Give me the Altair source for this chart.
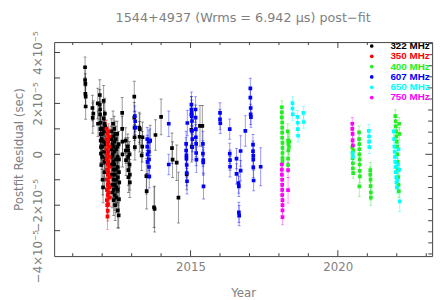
import altair as alt
import pandas as pd

freqs = ["322 MHz", "350 MHz", "400 MHz", "607 MHz", "650 MHz", "750 MHz"]
colors = ["#000000", "#ff0000", "#22ee22", "#0000ff", "#00ffff", "#ff00ff"]

# (year, residual in microseconds, error in microseconds)
obs_322 = [
    (2011.42, 34.2, 4), (2011.42, 29.2, 5), (2011.43, 27.7, 4), (2011.43, 23.8, 5), (2011.44, 22.7, 4), (2011.44, 18.8, 5),
    (2011.67, 18.2, 5), (2011.68, 14.3, 6), (2011.70, 16.0, 5), (2011.85, 20.0, 6), (2011.86, 12.0, 5),
    (2011.92, 23.3, 6), (2011.92, 19.5, 6), (2011.93, 17.6, 5), (2011.93, 15.7, 5), (2011.94, 12.4, 6), (2011.94, 9.9, 6),
    (2011.95, 7.9, 5), (2011.95, 5.4, 5), (2011.96, 2.8, 6), (2011.96, 0.3, 5), (2011.97, -4.2, 6),
    (2011.99, 10.0, 5), (2011.99, 6.0, 5), (2012.00, 3.0, 5), (2012.00, -1.0, 5), (2012.01, 8.0, 5), (2012.02, -10.0, 6), (2012.03, -13.0, 6),
    (2012.05, 21.0, 6), (2012.05, 14.0, 6), (2012.06, 9.0, 5), (2012.06, 5.0, 5), (2012.07, 1.0, 5), (2012.07, -3.0, 6),
    (2012.08, -7.0, 6), (2012.08, 12.0, 5), (2012.09, 16.0, 6),
    (2012.10, 11.0, 5), (2012.11, 4.0, 5), (2012.11, -2.0, 5),
    (2012.31, 9, 5), (2012.31, 6, 5), (2012.32, 2, 4), (2012.32, -1, 4), (2012.33, -4, 5), (2012.33, -8, 5),
    (2012.34, -12, 5), (2012.34, -15, 6), (2012.35, 4, 5), (2012.35, 0, 5),
    (2012.37, 12, 5), (2012.37, 7, 5), (2012.38, 3, 5), (2012.38, -3, 5), (2012.38, -6, 5), (2012.39, -10, 5), (2012.39, -14, 6), (2012.39, -18, 6),
    (2012.41, 10, 5), (2012.42, 5, 5), (2012.42, 1, 5), (2012.42, -4, 5), (2012.43, -8, 6), (2012.43, -12, 6), (2012.43, -16, 6), (2012.44, -20, 6), (2012.44, 8, 5),
    (2012.46, 6, 5), (2012.47, 2, 5), (2012.47, -2, 5), (2012.47, -6, 5), (2012.48, -10, 5), (2012.48, -13, 6), (2012.48, -17, 6),
    (2012.51, 8, 5), (2012.52, 3, 5), (2012.52, -1, 5), (2012.52, -5, 5), (2012.53, -9, 6), (2012.53, -14, 6), (2012.53, -22, 7),
    (2012.56, 4, 5), (2012.57, -2, 5), (2012.57, -7, 6), (2012.58, -11, 6), (2012.57, -17.7, 6), (2012.56, -24, 5),
    (2012.68, 16.3, 6), (2012.68, 10, 5), (2012.69, 5, 5), (2012.69, 0, 5),
    (2012.80, 5.4, 5), (2012.80, 1.5, 5), (2012.81, -2.3, 6),
    (2012.87, 3, 5), (2012.88, 1.5, 5), (2012.88, -1, 5), (2012.89, -6.2, 6), (2012.89, -9, 6),
    (2012.93, 0, 5), (2012.93, -4, 5), (2012.94, -8, 6), (2012.94, -11, 6),
    (2013.09, 22.7, 6), (2013.09, 14.4, 6), (2013.10, 10.5, 5), (2013.10, 6.7, 5), (2013.11, 2.8, 5),
    (2013.26, 10.5, 6), (2013.27, 6.9, 6), (2013.28, 9.9, 6),
    (2013.34, -0.4, 6), (2013.36, 3, 6), (2013.37, 6.7, 6),
    (2013.50, -8.6, 7), (2013.51, -14.5, 7),
    (2013.63, 5.4, 6),
    (2013.76, -20.8, 8), (2013.78, -21.5, 9),
    (2013.81, 7.6, 6),
    (2014.00, 14.7, 7),
    (2014.37, 2.4, 6), (2014.39, -2.1, 7),
    (2014.53, -3.3, 7),
    (2014.59, -17, 10),
    (2014.87, -7.9, 6),
    (2015.03, 15.7, 7), (2015.03, 9.6, 6), (2015.04, 3, 6),
    (2015.32, 11.2, 8), (2015.40, 11.2, 8),
]

obs_350 = [
    (2012.15, 10, 3.5), (2012.15, 6, 3), (2012.15, 2, 3), (2012.15, -2, 3), (2012.16, -6, 3), (2012.16, -10, 3),
    (2012.16, -14, 3), (2012.16, -18, 3.5), (2012.17, -20, 3.5),
    (2012.18, 8, 3), (2012.18, 4, 3), (2012.18, 0, 3), (2012.19, -4, 3), (2012.19, -8, 3), (2012.19, -12, 3), (2012.19, -16, 3),
    (2012.21, 9, 3), (2012.21, 5, 3), (2012.21, 1, 3), (2012.22, -3, 3), (2012.22, -7, 3), (2012.22, -11, 3), (2012.22, -15, 3),
    (2012.20, -19.6, 4), (2012.19, -22.2, 4), (2012.18, -24.5, 5),
    (2012.24, 7, 3), (2012.24, 3, 3), (2012.24, -1, 3), (2012.25, -5, 3), (2012.25, -9, 3), (2012.25, -13, 3), (2012.26, -17, 3.5),
]

obs_400 = [
    (2018.10, 18.5, 2.5), (2018.10, 16.5, 2.5), (2018.10, 14.5, 2.5), (2018.11, 12.5, 2.5), (2018.11, 10.5, 2.5), (2018.11, 8.5, 2.5),
    (2018.11, 6.5, 2.5), (2018.12, 4.5, 2.5), (2018.12, 2.5, 2.5), (2018.12, 0.5, 2.5), (2018.12, -1.5, 2.5), (2018.12, -3, 2.5),
    (2018.30, 9, 3), (2018.31, 5.4, 3), (2018.32, 4.1, 3), (2018.32, 1.5, 3), (2018.31, -1.7, 3), (2018.31, -4.2, 3), (2018.34, 3, 3), (2018.35, 5, 3),
    (2020.49, 2.8, 2), (2020.50, 0.5, 2), (2020.50, -1.5, 2), (2020.51, -3.5, 2), (2020.51, -5.5, 2), (2020.52, -7.4, 2), (2020.52, 1.5, 2),
    (2020.72, 8.6, 2.5), (2020.72, 6, 2.5), (2020.73, 4, 2.5), (2020.73, 2, 2.5), (2020.73, 0, 2.5), (2020.74, -2, 2.5),
    (2020.74, -4, 2.5), (2020.74, -6.5, 2.5), (2020.75, -8.7, 2.5), (2020.73, -12.6, 4),
    (2021.10, -6.2, 3), (2021.10, -8, 3), (2021.11, -10, 3), (2021.11, -12.5, 3), (2021.12, -15, 3), (2021.12, -17, 3),
    (2021.95, 15, 2.5), (2021.96, 13, 2.5), (2021.97, 11, 2.5), (2021.98, 9, 2.5), (2021.99, 7, 2.5), (2022.00, 5, 2.5),
    (2022.01, 3, 2.5), (2022.02, 0, 2.5), (2022.03, -3, 2.5), (2022.04, -6, 2.5), (2022.05, -9, 2.5), (2022.06, -12, 2.5),
    (2022.07, -14.5, 2.5), (2022.08, 12, 2.5), (2022.09, 8, 2.5),
]

obs_607 = [
    (2013.11, 15, 4), (2013.12, 13, 4), (2013.12, 10.5, 4),
    (2013.53, 6, 4.5), (2013.53, 3, 4.5), (2013.54, 0, 4.5), (2013.54, -3, 4.5), (2013.58, 5, 4.5), (2013.58, 1, 4.5),
    (2013.59, -2, 4.5), (2013.59, -5, 4.5), (2013.60, -8.7, 4.5), (2013.62, 5.4, 4.5),
    (2014.26, 12, 5), (2014.26, -4, 4),
    (2014.85, 4.1, 5), (2014.85, 1.5, 5), (2014.86, -0.4, 5), (2014.86, -1.7, 5), (2014.87, -4.2, 5), (2014.87, -7.4, 5),
    (2014.88, -10.6, 5), (2014.89, 12.3, 5),
    (2015.03, 19.5, 5), (2015.03, 17.6, 5), (2015.04, 16.3, 5), (2015.04, 15, 5), (2015.05, 13.1, 5), (2015.05, 9.2, 5),
    (2015.06, 6, 5), (2015.06, 2.8, 5),
    (2015.17, 17.6, 5), (2015.17, 14.4, 5), (2015.18, 9.9, 5), (2015.18, 6.7, 5), (2015.19, 4.1, 5), (2015.19, 0.5, 5), (2015.20, -2.1, 5),
    (2015.42, 4.1, 5), (2015.42, 0.3, 5), (2015.43, -2.3, 5), (2015.43, -3.2, 5), (2015.44, -12.6, 5),
    (2016.00, 16.3, 4), (2016.00, 13.7, 4), (2016.01, 12.2, 4),
    (2016.33, 9.9, 4), (2016.33, 0.3, 4), (2016.34, -2.3, 4), (2016.34, -4.9, 4),
    (2016.56, -1.7, 4), (2016.56, -7.7, 4),
    (2016.63, -11.3, 4), (2016.64, -12.6, 4), (2016.64, -22.8, 4), (2016.65, -24.1, 4),
    (2016.70, 1.3, 6), (2016.70, -6.4, 4),
    (2016.86, 9.2, 6),
    (2017.03, 25.9, 4), (2017.03, 22.3, 4), (2017.04, 18.2, 4), (2017.04, 15.7, 4), (2017.05, 14.6, 4),
    (2017.12, 3.8, 4), (2017.12, 1.2, 4), (2017.13, -0.5, 4), (2017.13, -2, 4), (2017.13, -5.1, 4), (2017.14, -10.3, 4),
    (2017.38, -4.9, 7.5),
]

obs_650 = [
    (2018.46, 20.1, 2.5), (2018.46, 18, 2.5), (2018.47, 15.7, 2.5),
    (2018.63, 14.7, 2.5), (2018.64, 12.4, 2.5), (2018.64, 9.9, 2.5), (2018.65, 7.3, 2.5),
    (2018.83, 16.3, 2.5), (2018.84, 12.7, 2.5),
    (2020.50, 0.5, 2), (2020.51, -1, 2),
    (2021.05, 9.2, 2.5), (2021.06, 7, 2.5), (2021.06, 5, 2.5), (2021.07, 2.8, 2.5),
    (2021.90, 9, 2.5), (2021.91, 6, 2.5), (2021.92, 3, 2.5), (2021.93, 1, 2.5), (2021.94, -1, 2.5), (2021.95, -3, 2.5),
    (2021.96, -5, 2.5), (2021.97, -7, 2.5), (2021.98, -9, 2.5), (2021.99, -11, 2.5), (2022.00, -13, 2.5), (2022.02, -10, 2.5),
    (2022.04, -4, 2.5), (2022.06, 2, 2.5), (2022.08, -6, 2.5), (2022.10, -18.5, 4),
]

obs_750 = [
    (2018.10, -4, 2.5), (2018.10, -6, 2.5), (2018.10, -8, 2.5), (2018.11, -10, 2.5), (2018.11, -12, 2.5), (2018.11, -14, 2.5),
    (2018.11, -16, 2.5), (2018.12, -18, 2.5), (2018.12, -20, 2.5), (2018.12, -22, 2.5), (2018.12, -24.7, 3),
    (2018.31, -6.2, 3), (2018.31, -14.1, 5),
    (2020.49, 12, 2.5), (2020.49, 10, 2.5), (2020.50, 8, 2.5), (2020.50, 5.5, 2.5), (2020.51, 3.5, 2.5),
]

series = [obs_322, obs_350, obs_400, obs_607, obs_650, obs_750]

x_major = [2015, 2020]
x_minor = [2011, 2012, 2013, 2014, 2016, 2017, 2018, 2019, 2021, 2022, 2023]
y_left_ticks = [-3e-5, -2e-5, -1e-5, 0, 1e-5, 2e-5, 3e-5, 4e-5]
y_labels = [-4e-5, -2e-5, 0, 2e-5, 4e-5]
right_step = 4.35e-6
right_minor_k = [-9, -8, -7, -6, -5, -4, -3, -2, -1, 1, 2, 3, 4, 5, 6, 7, 8, 9, 10]

rows = []
for i, (f, obs) in enumerate(zip(freqs, series)):
    for (d, r, e) in obs:
        rows.append({"freq": f, "ord": i, "year": d, "res": r * 1e-6,
                     "lo": (r - e) * 1e-6, "hi": (r + e) * 1e-6})
df = pd.DataFrame(rows)

W, H = 385, 218
gray = "#808080"
frame = "#404040"
xscale = alt.Scale(domain=[2010.37, 2023.2], nice=False, zero=False)
yscale = alt.Scale(domain=[-4e-5, 4.41e-5], nice=False, zero=False)

xaxis = alt.Axis(values=x_major, format="d", title="Year", ticks=False, tickSize=0,
                 domain=False, grid=False, labelPadding=6, titlePadding=15)
ylabel_expr = ("datum.value == 0 ? '0' : (datum.value < 0 ? '\u2212' : '') + "
               "abs(round(datum.value * 1e5)) + '\u00d710\u207b\u2075'")
yaxis = alt.Axis(values=y_labels, labelExpr=ylabel_expr, title="Postfit Residual (sec)",
                 labelAngle=-90, labelAlign="center", labelBaseline="bottom",
                 labelFlush=False, labelOverlap=False, labelBound=False,
                 ticks=False, tickSize=0, domain=False, grid=False,
                 labelPadding=10, titlePadding=6)


def X(f):
    return alt.X(f, type="quantitative", scale=xscale, axis=xaxis)


def Y(f):
    return alt.Y(f, type="quantitative", scale=yscale, axis=yaxis)


cscale = alt.Scale(domain=freqs, range=colors)
color_expr = " : ".join(f"datum.label == '{f}' ? '{c}'" for f, c in zip(freqs, colors)) + " : '#000000'"
legend = alt.Legend(orient="none", legendX=318.5, legendY=-1, title=None, symbolType="circle",
                    symbolSize=14, symbolStrokeWidth=0, symbolOpacity=1,
                    labelFont="Liberation Sans", labelFontWeight="bold", labelFontSize=10,
                    labelOffset=14, rowPadding=0.5, padding=0,
                    labelColor={"expr": color_expr})

err_layers = []
for f, c in zip(freqs, colors):
    b = alt.Chart(df).transform_filter(alt.datum.freq == f)
    err_layers.append(b.mark_rule(color=c, opacity=0.4, strokeWidth=1, clip=True).encode(
        x=X("year"), y=Y("lo"), y2="hi"))
    err_layers.append(b.mark_tick(color=c, orient="horizontal", size=3, thickness=1, opacity=0.4, clip=True).encode(
        x=X("year"), y=Y("lo")))
    err_layers.append(b.mark_tick(color=c, orient="horizontal", size=3, thickness=1, opacity=0.4, clip=True).encode(
        x=X("year"), y=Y("hi")))

pts = alt.Chart(df).mark_square(size=14, opacity=1, clip=True).encode(
    x=X("year"), y=Y("res"),
    color=alt.Color("freq:N", scale=cscale, legend=legend), order="ord:Q")

xmaj = pd.DataFrame({"v": x_major})
xmin = pd.DataFrame({"v": x_minor})
yl = pd.DataFrame({"v": y_left_ticks})
yr_min = pd.DataFrame({"v": [k * right_step for k in right_minor_k]})
yr_maj = pd.DataFrame({"v": [0.0]})

tick_layers = [
    alt.Chart(xmaj).mark_rule(color=frame).encode(x=X("v"), y=alt.value(H), y2=alt.value(H - 6)),
    alt.Chart(xmin).mark_rule(color=frame).encode(x=X("v"), y=alt.value(H), y2=alt.value(H - 3)),
    alt.Chart(xmaj).mark_rule(color=frame).encode(x=X("v"), y=alt.value(0), y2=alt.value(6)),
    alt.Chart(xmin).mark_rule(color=frame).encode(x=X("v"), y=alt.value(0), y2=alt.value(3)),
    alt.Chart(yl).mark_rule(color=frame).encode(y=Y("v"), x=alt.value(0), x2=alt.value(6)),
    alt.Chart(yr_min).mark_rule(color=frame).encode(y=Y("v"), x=alt.value(W), x2=alt.value(W - 4)),
    alt.Chart(yr_maj).mark_rule(color=frame).encode(y=Y("v"), x=alt.value(W), x2=alt.value(W - 7)),
]

chart = alt.layer(*err_layers, pts, *tick_layers).properties(
    width=W, height=H,
    title=alt.Title("1544+4937 (Wrms = 6.942 \u03bcs) post\u2212fit", fontSize=13, font="DejaVu Sans",
                    color=gray, fontWeight="normal", offset=6, anchor="middle", frame="group"),
    autosize=alt.AutoSizeParams(type="none"),
    padding={"left": 47, "top": 32, "right": 7, "bottom": 42},
).configure_view(stroke=frame, strokeWidth=1).configure_axis(
    labelFont="DejaVu Sans", labelColor=gray, labelFontSize=12,
    titleFont="DejaVu Sans", titleColor=gray, titleFontSize=12, titleFontWeight="normal",
)

chart.save("out.html", embed_options={"renderer": "svg", "actions": False})
